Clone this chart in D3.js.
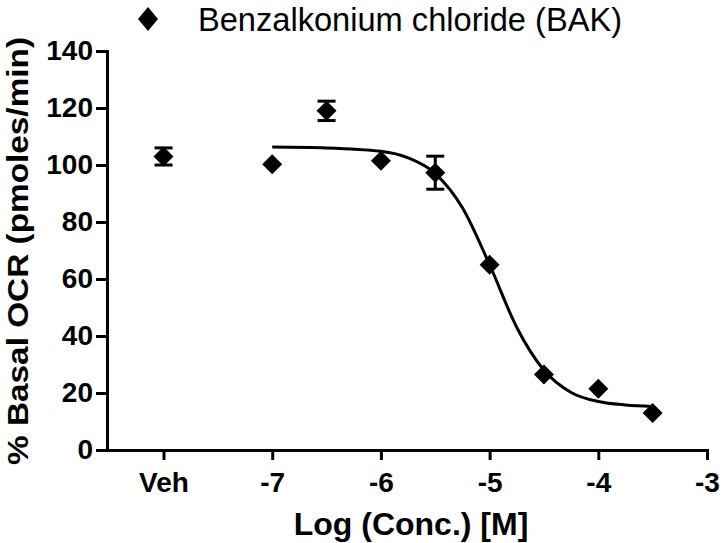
<!DOCTYPE html>
<html>
<head>
<meta charset="utf-8">
<script src="https://cdn.jsdelivr.net/npm/d3@7"></script>
<style>
  body { margin: 0; background: white; }
  svg { display: block; }
  .axis path, .axis line { stroke: black; stroke-width: 3; }
  .axis text { font-family: "Liberation Sans", Arial, sans-serif; font-weight: bold; font-size: 28px; fill: black; }
</style>
</head>
<body>
<svg id="chart" width="722" height="543"></svg>
<script>
/* helper method to make translating easier */
var translate = function(x, y) { return "translate(" + x + "," + y + ")"; };

// x positions on the log axis, vehicle is drawn at the "Veh" tick
var xTickValues = [-8, -7, -6, -5, -4, -3];
var xTickLabels = ["Veh", "-7", "-6", "-5", "-4", "-3"];
var yTickValues = [0, 20, 40, 60, 80, 100, 120, 140];

// measured points (mean +/- error)
var logConc = [-8, -7, -6.5, -6, -5.5, -5, -4.5, -4, -3.5];
var ocrMean = [103, 100.3, 119, 101.5, 97.3, 65, 26.5, 21.5, 13];
var ocrErr  = [3, 0, 3.4, 0, 5.8, 0, 0, 0, 0];

// fitted curve
var curveX = [-7, -6.5, -6, -5.75, -5.5, -5.25, -5, -4.75, -4.5, -4.25, -4, -3.75, -3.5];
var curveY = [106.3, 106, 104.8, 102.5, 97, 85, 65, 43, 28, 20.2, 17, 15.8, 15.3];

var legendLabel = "Benzalkonium chloride (BAK)";

var svg = d3.select("#chart");

var x = d3.scaleLinear()
  .domain([-8.52, -3])
  .range([107, 707]);

var y = d3.scaleLinear()
  .domain([0, 140])
  .range([450, 51]);

var xAxis = d3.axisBottom(x)
  .tickValues(xTickValues)
  .tickFormat(function(d, i) { return xTickLabels[i]; })
  .tickSize(10)
  .tickSizeOuter(0)
  .tickPadding(12);

var yAxis = d3.axisLeft(y)
  .tickValues(yTickValues)
  .tickSize(11)
  .tickSizeOuter(0)
  .tickPadding(3);

var gx = svg.append("g")
  .attr("class", "axis")
  .attr("transform", translate(0, y(0)))
  .call(xAxis);

var gy = svg.append("g")
  .attr("class", "axis")
  .attr("transform", translate(x.range()[0], 0))
  .call(yAxis);

gx.select(".domain").attr("stroke-linecap", "square");
gy.select(".domain").attr("stroke-linecap", "square");

// fitted curve
var line = d3.line()
  .x(function(d) { return x(d[0]); })
  .y(function(d) { return y(d[1]); })
  .curve(d3.curveMonotoneX);

svg.append("path")
  .datum(d3.zip(curveX, curveY))
  .attr("fill", "none")
  .attr("stroke", "black")
  .attr("stroke-width", 3)
  .attr("d", line);

// diamonds = squares turned 45 degrees
var diamond = d3.symbol().type(d3.symbolSquare).size(200);

var points = d3.range(logConc.length).map(function(i) {
  return { x: logConc[i], y: ocrMean[i], err: ocrErr[i] };
});

svg.selectAll(".pt")
  .data(points)
  .enter().append("path")
  .attr("class", "pt")
  .attr("d", diamond)
  .attr("transform", function(d) { return translate(x(d.x), y(d.y)) + " rotate(45)"; })
  .attr("fill", "black");

var bars = svg.selectAll(".err")
  .data(points.filter(function(d) { return d.err > 0; }))
  .enter().append("g")
  .attr("class", "err")
  .attr("stroke", "black")
  .attr("stroke-width", 3);

bars.append("line")
  .attr("x1", function(d) { return x(d.x); })
  .attr("x2", function(d) { return x(d.x); })
  .attr("y1", function(d) { return y(d.y - d.err); })
  .attr("y2", function(d) { return y(d.y + d.err); });

bars.append("line")
  .attr("x1", function(d) { return x(d.x) - 9; })
  .attr("x2", function(d) { return x(d.x) + 9; })
  .attr("y1", function(d) { return y(d.y + d.err); })
  .attr("y2", function(d) { return y(d.y + d.err); });

bars.append("line")
  .attr("x1", function(d) { return x(d.x) - 9; })
  .attr("x2", function(d) { return x(d.x) + 9; })
  .attr("y1", function(d) { return y(d.y - d.err); })
  .attr("y2", function(d) { return y(d.y - d.err); });

// legend
svg.append("path")
  .attr("d", diamond)
  .attr("transform", translate(148, 19) + " scale(1,1.2) rotate(45)")
  .attr("fill", "black");

svg.append("text")
  .attr("x", 198)
  .attr("y", 31)
  .attr("textLength", 424)
  .attr("lengthAdjust", "spacingAndGlyphs")
  .style("font-family", "'Liberation Sans', Arial, sans-serif")
  .style("font-size", "33px")
  .text(legendLabel);

// axis titles
svg.append("text")
  .attr("x", 411)
  .attr("y", 535)
  .attr("text-anchor", "middle")
  .style("font-family", "'Liberation Sans', Arial, sans-serif")
  .style("font-weight", "bold")
  .style("font-size", "32px")
  .text("Log (Conc.) [M]");

svg.append("text")
  .attr("transform", translate(28, 251) + " rotate(-90)")
  .attr("x", 0)
  .attr("y", 0)
  .attr("text-anchor", "middle")
  .attr("textLength", 428)
  .attr("lengthAdjust", "spacingAndGlyphs")
  .style("font-family", "'Liberation Sans', Arial, sans-serif")
  .style("font-weight", "bold")
  .style("font-size", "29px")
  .text("% Basal OCR (pmoles/min)");
</script>
</body>
</html>
